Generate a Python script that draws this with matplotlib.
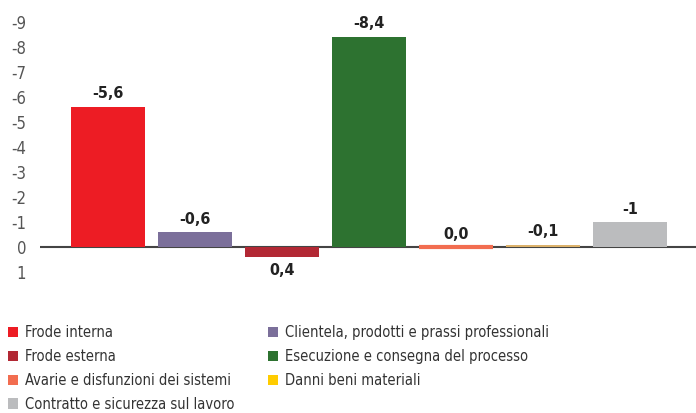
import matplotlib.pyplot as plt
from matplotlib.patches import Patch

categories = [
    "Frode interna",
    "Clientela, prodotti e prassi professionali",
    "Frode esterna",
    "Esecuzione e consegna del processo",
    "Avarie e disfunzioni dei sistemi",
    "Danni beni materiali",
    "Contratto e sicurezza sul lavoro",
]
values = [-5.6, -0.6, 0.4, -8.4, 0.0, -0.1, -1]
value_labels = ["-5,6", "-0,6", "0,4", "-8,4", "0,0", "-0,1", "-1"]
bar_colors = ["#ed1c24", "#7b6f9a", "#b22834", "#2d7230", "#f26d50", "#dcb26b", "#bbbcbe"]
legend_colors = ["#ed1c24", "#7b6f9a", "#b22834", "#2d7230", "#f26d50", "#ffcc00", "#bbbcbe"]
yticks = [-9, -8, -7, -6, -5, -4, -3, -2, -1, 0, 1]

plt.rcParams["font.family"] = ["DejaVu Sans"]
plt.rcParams["font.stretch"] = "condensed"

fig = plt.figure(figsize=(6.96, 4.13), dpi=100)
ax = fig.add_axes([0.0575, 0.341, 0.9425, 0.6065])

x = list(range(len(values)))
ax.axhline(0, color="#444444", linewidth=1.5, zorder=1)
# thin edge in the bar colour keeps near-zero bars visible as a line
ax.bar(x, values, width=0.85, color=bar_colors, edgecolor=bar_colors,
       linewidth=[0, 0, 0, 0, 3, 0, 0], zorder=2)

for xi, v, lab in zip(x, values, value_labels):
    if v > 0:
        ax.text(xi, v + 0.25, lab, ha="center", va="top",
                fontsize=11.5, fontweight="bold", color="#222222")
    else:
        ax.text(xi, v - 0.22, lab, ha="center", va="bottom",
                fontsize=11.5, fontweight="bold", color="#222222")

ax.set_xlim(-0.78, 6.76)
ax.set_ylim(1, -9)
ax.set_yticks(yticks)
ax.set_yticklabels([str(t) for t in yticks])
ax.tick_params(axis="y", length=0, pad=10, labelsize=12, labelcolor="#555555")
ax.set_xticks([])
for side in ["top", "right", "left", "bottom"]:
    ax.spines[side].set_visible(False)

# legend: first column holds four entries, second holds three
order = [0, 2, 4, 6, 1, 3, 5]
handles = [Patch(facecolor=legend_colors[i], edgecolor="none") for i in order]
labels = [categories[i] for i in order]
fig.legend(handles, labels, ncol=2, loc="upper left", bbox_to_anchor=(0.007, 0.2203),
           frameon=False, fontsize=10.5, handlelength=0.7, handleheight=0.7,
           handletextpad=0.5, labelspacing=0.61, columnspacing=2.26,
           labelcolor="#333333", borderaxespad=0, borderpad=0.2)

fig.savefig("out.png", dpi=100)
